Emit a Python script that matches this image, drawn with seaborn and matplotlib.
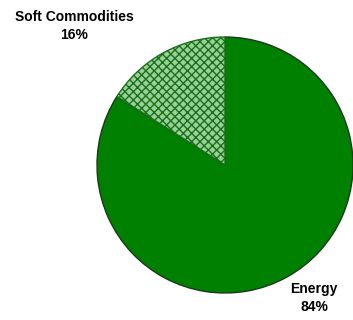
import matplotlib
matplotlib.use("Agg")
import matplotlib.pyplot as plt
import seaborn as sns

categories = ["Energy", "Soft Commodities"]
values = [84, 16]
pct_labels = ["84%", "16%"]

sns.set_style("white")
plt.rcParams['font.family'] = ['Liberation Sans', 'DejaVu Sans']
plt.rcParams['hatch.linewidth'] = 1.0

fig = plt.figure(figsize=(3.53, 3.2), dpi=100)
ax = fig.add_axes([0, 0, 1, 1])

colors = ["#008000", "#98d098"]
wedges, _ = ax.pie(values, colors=colors, startangle=90, counterclock=False,
                   center=(225, 155), radius=128, frame=True,
                   wedgeprops=dict(linewidth=1.0, edgecolor="#1a3a1a"))
wedges[1].set_hatch("xxxx")
wedges[1].set_edgecolor("#1a701a")
ax.set_xlim(0, 353)
ax.set_ylim(0, 320)
ax.set_aspect('equal')
ax.axis('off')

ax.text(74, 294, f"{categories[1]}\n{pct_labels[1]}", ha='center', va='center',
        fontsize=10, fontweight='bold', linespacing=1.4, color='black')
ax.text(314, 22, f"{categories[0]}\n{pct_labels[0]}", ha='center', va='center',
        fontsize=10, fontweight='bold', linespacing=1.4, color='black')

fig.savefig("out.png", dpi=100)
